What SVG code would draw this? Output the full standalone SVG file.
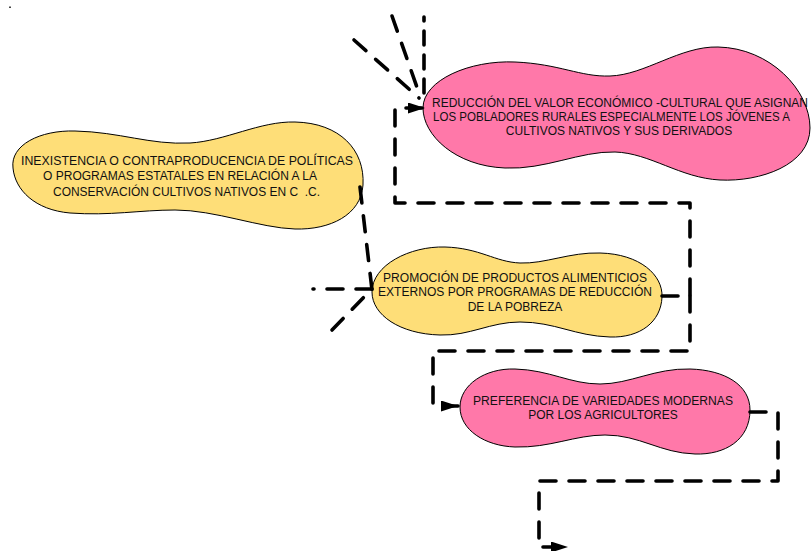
<svg xmlns="http://www.w3.org/2000/svg" width="811" height="551" viewBox="0 0 811 551">
<style>
.pink{fill:#FF78A9;stroke:#000;stroke-width:1}
.yellow{fill:#FEDE78;stroke:#000;stroke-width:1}
.t{font-family:"Liberation Sans",Arial,sans-serif;font-size:12px;fill:#111}
.c{fill:none;stroke:#000;stroke-width:3.6;stroke-dasharray:16 13;stroke-linecap:round;stroke-linejoin:round}
</style>
<defs>
<marker id="arr" markerUnits="userSpaceOnUse" markerWidth="17" markerHeight="11" refX="17" refY="5.5" orient="auto">
<path d="M0,0 L17,5.5 L0,11 Z" fill="#000"/>
</marker>
</defs>
<rect width="811" height="551" fill="#fff"/>
<rect x="9" y="6.5" width="2" height="1.5" fill="#444"/>

<g id="n-reduccion">
<path class="pink" d="M423,108 C423,80 470,60 515,62 C560,64 580,77 610,76 C645,75 680,46 718,47 C770,48 810,90 810,128 C810,165 760,182 720,180 C680,178 650,153 615,152 C580,151 545,170 505,168 C455,166 423,135 423,108 Z"/>
<text class="t" x="432" y="107" textLength="376" lengthAdjust="spacingAndGlyphs">REDUCCIÓN DEL VALOR ECONÓMICO -CULTURAL QUE ASIGNAN</text>
<text class="t" x="433" y="121" textLength="357" lengthAdjust="spacingAndGlyphs">LOS POBLADORES RURALES ESPECIALMENTE LOS JÓVENES A</text>
<text class="t" x="619" y="135" text-anchor="middle">CULTIVOS NATIVOS Y SUS DERIVADOS</text>
</g>

<g id="n-inexistencia">
<path class="yellow" d="M13,168 C10,145 40,130 75,131 C120,132 150,145 190,143 C225,141 260,121 295,122 C340,123 365,150 363,185 C361,215 330,230 295,229 C260,228 215,210 175,210 C140,210 110,216 70,213 C35,210 15,190 13,168 Z"/>
<text class="t" x="21" y="165" textLength="332" lengthAdjust="spacingAndGlyphs">INEXISTENCIA O CONTRAPRODUCENCIA DE POLÍTICAS</text>
<text class="t" x="43" y="180" textLength="274" lengthAdjust="spacingAndGlyphs">O PROGRAMAS ESTATALES EN RELACIÓN A LA</text>
<text class="t" x="53" y="196" textLength="267" lengthAdjust="spacingAndGlyphs">CONSERVACIÓN CULTIVOS NATIVOS EN C&#160; .C.</text>
</g>

<g id="n-promocion">
<path class="yellow" d="M372,292 C372,265 410,246 445,247 C480,248 495,262 520,263 C545,264 570,252 600,253 C640,254 663,275 662,297 C661,322 640,338 610,337 C575,336 555,322 520,322 C490,322 470,336 440,335 C400,334 372,315 372,292 Z"/>
<text class="t" x="383" y="282" textLength="264" lengthAdjust="spacingAndGlyphs">PROMOCIÓN DE PRODUCTOS ALIMENTICIOS</text>
<text class="t" x="378" y="296" textLength="274" lengthAdjust="spacingAndGlyphs">EXTERNOS POR PROGRAMAS DE REDUCCIÓN</text>
<text class="t" x="515" y="311" text-anchor="middle">DE LA POBREZA</text>
</g>

<g id="n-preferencia">
<path class="pink" d="M460,407 C460,385 485,368 515,369 C550,370 570,384 600,384 C630,384 655,368 690,369 C725,370 750,385 750,410 C750,440 725,455 695,454 C660,453 640,435 605,435 C575,435 550,448 515,447 C485,446 460,430 460,407 Z"/>
<text class="t" x="473" y="405" textLength="260" lengthAdjust="spacingAndGlyphs">PREFERENCIA DE VARIEDADES MODERNAS</text>
<text class="t" x="603" y="419" text-anchor="middle">POR LOS AGRICULTORES</text>
</g>

<g id="connectors">
<path class="c" d="M662,296 H690 V203 H395 V108 H425" marker-end="url(#arr)"/>
<path class="c" d="M690,296 V351 H433 V406 H458" marker-end="url(#arr)"/>
<path class="c" d="M750,412 H778 V481 H539 V547 H568" marker-end="url(#arr)"/>
<path class="c" d="M360,187 L372,290"/>
<path class="c" d="M372,289 H313"/>
<path class="c" d="M332,330 L365,296"/>
<path class="c" style="stroke-dasharray:14 10" d="M424,93 V17"/>
<path class="c" d="M392,16 L419,93"/>
<path class="c" d="M354,40 L419,98"/>
</g>
</svg>
